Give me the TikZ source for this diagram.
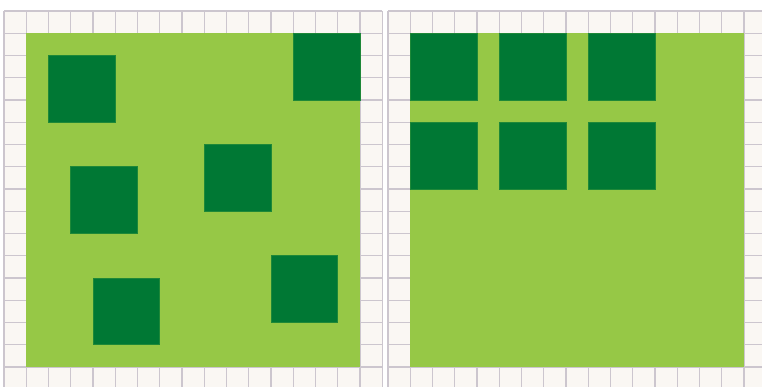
\documentclass[tikz,border=0pt]{standalone}
\definecolor{cellfill}{RGB}{250,247,243}
\definecolor{gridline}{RGB}{204,198,206}
\definecolor{lightgreen}{RGB}{150,200,70}
\definecolor{darkgreen}{RGB}{0,120,52}
\def\cs{22.25}
\tikzset{
  gridln/.style={draw=gridline, line width=1.3pt},
  field/.style={fill=lightgreen},
  block/.style={fill=darkgreen, draw=darkgreen!80!lightgreen, line width=0.7pt}
}
\newcommand\mypanel[1]{%
  \begin{scope}[shift={(#1,11)}]
    \fill[cellfill] (0,0) rectangle (17*\cs,17*\cs);
    \foreach \i in {0,...,17} {
      \draw[gridln] (\i*\cs,0) -- (\i*\cs,17*\cs);
      \draw[gridln] (0,\i*\cs) -- (17*\cs,\i*\cs);
    }
    \fill[field] (\cs,\cs) rectangle (16*\cs,16*\cs);
  \end{scope}}
\newcommand\mysq[3]{%
  \path[block] (#1+#2*\cs,11+#3*\cs) rectangle ++(3*\cs,3*\cs);}
\begin{document}
\begin{tikzpicture}[x=1pt,y=-1pt]
  \useasboundingbox (0,0) rectangle (762,387);
  \fill[white] (0,0) rectangle (762,387);
  \clip (0,0) rectangle (762,387);
  \mypanel{4}
  \mypanel{388}
  % left panel blocks
  \mysq{4}{2}{2}
  \mysq{4}{13}{1}
  \mysq{4}{3}{7}
  \mysq{4}{9}{6}
  \mysq{4}{4}{12}
  \mysq{4}{12}{11}
  % right panel blocks
  \mysq{388}{1}{1}
  \mysq{388}{5}{1}
  \mysq{388}{9}{1}
  \mysq{388}{1}{5}
  \mysq{388}{5}{5}
  \mysq{388}{9}{5}
\end{tikzpicture}
\end{document}
